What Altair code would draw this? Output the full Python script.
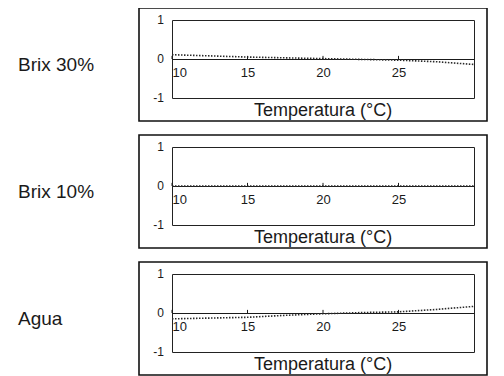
import altair as alt
import pandas as pd

# ---- data ----
temps = [10, 12.5, 15, 17.5, 20, 22.5, 25, 27.5, 30]
brix30 = [0.11, 0.08, 0.05, 0.03, 0.01, -0.01, -0.03, -0.07, -0.14]
brix10 = [0.0, 0.0, 0.0, 0.0, 0.0, 0.0, 0.0, 0.0, 0.0]
agua = [-0.15, -0.13, -0.11, -0.06, -0.02, 0.01, 0.03, 0.09, 0.17]
panel_names = ["Brix 30%", "Brix 10%", "Agua"]
x_tick_values = [10, 15, 20, 25]
y_tick_values = [-1, 0, 1]
y_tick_labels = ["-1", "0", "1"]
x_domain = [10, 30]
y_domain = [-1, 1]
x_title = "Temperatura (°C)"

W, H = 302, 78
FONT = "Liberation Sans"
INK = "#1a1a1a"


def panel(name, values):
    df = pd.DataFrame({"t": temps, "v": values})
    xs = alt.Scale(domain=x_domain, nice=False, zero=False)
    ys = alt.Scale(domain=y_domain, nice=False)

    line = alt.Chart(df).mark_line(
        strokeDash=[1.5, 1.5], strokeWidth=1.6, color="#2a2a2a"
    ).encode(
        x=alt.X("t:Q", scale=xs, axis=alt.Axis(
            values=x_tick_values, offset=-H / 2, ticks=False, grid=False,
            domainColor=INK, domainWidth=1, labelFlush=True, labelPadding=7,
            labelFont=FONT, labelFontSize=13, labelColor=INK, title=None)),
        y=alt.Y("v:Q", scale=ys, axis=None),
    )

    tdf = pd.DataFrame({"t": x_tick_values, "y0": [0] * len(x_tick_values),
                        "y1": [0.08] * len(x_tick_values)})
    ticks = alt.Chart(tdf).mark_rule(color=INK, strokeWidth=1).encode(
        x=alt.X("t:Q", scale=xs), y=alt.Y("y0:Q", scale=ys), y2="y1:Q")

    ydf = pd.DataFrame({"v": y_tick_values, "lab": y_tick_labels})
    ylabels = alt.Chart(ydf).mark_text(
        font=FONT, fontSize=12, color=INK, align="right", baseline="middle"
    ).encode(x=alt.value(-8), y=alt.Y("v:Q", scale=ys), text="lab:N")

    one = pd.DataFrame({"label": [name], "title": [x_title]})
    frame = alt.Chart(one).mark_rect(
        fillOpacity=0, stroke="#111", strokeWidth=1.6
    ).encode(x=alt.value(-33), x2=alt.value(W + 13),
             y=alt.value(-12), y2=alt.value(H + 23))

    title = alt.Chart(one).mark_text(
        font=FONT, fontSize=18, color=INK, baseline="top", align="center"
    ).encode(x=alt.value(W / 2), y=alt.value(H + 4), text="title:N")

    label = alt.Chart(one).mark_text(
        font=FONT, fontSize=19, color=INK, baseline="middle", align="left"
    ).encode(x=alt.value(-154), y=alt.value(H / 2 + 6), text="label:N")

    return alt.layer(frame, line, ticks, ylabels, title, label).properties(
        width=W, height=H)


chart = alt.vconcat(
    panel(panel_names[0], brix30),
    panel(panel_names[1], brix10),
    panel(panel_names[2], agua),
    spacing=49, bounds="flush",
).properties(
    padding={"left": 9, "top": -2, "right": 0, "bottom": 0},
    background="white",
).configure_view(stroke="#222", strokeWidth=1)

chart.save("out.html", embed_options={"renderer": "svg", "actions": False})
